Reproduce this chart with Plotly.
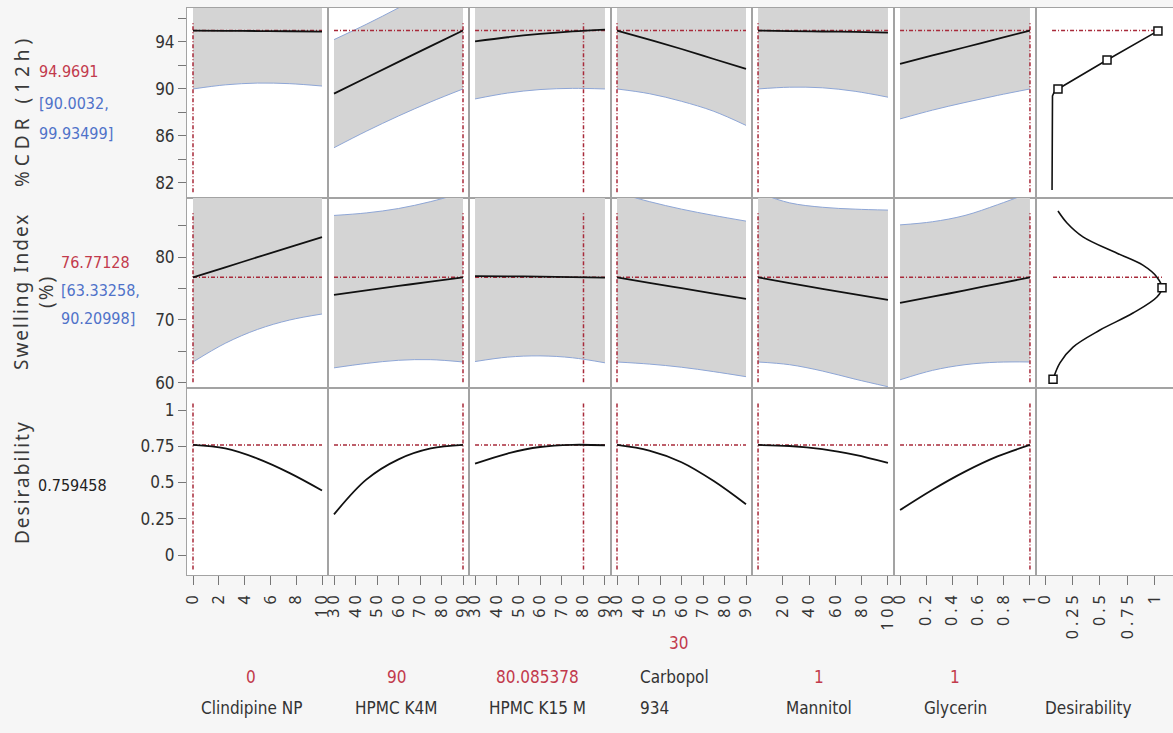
import plotly.graph_objects as go

# ---------------- data ----------------
factor_names = ["Clindipine NP", "HPMC K4M", "HPMC K15 M", "Carbopol 934", "Mannitol", "Glycerin"]
factor_current = [0, 90, 80.085378, 30, 1, 1]
factor_current_text = ["0", "90", "80.085378", "30", "1", "1"]
factor_lo = [0, 30, 30, 30, 1, 0]
factor_hi = [10, 90, 90, 90, 100, 1]

x_clindipine = [0, 2.5, 5, 7.5, 10]
x_k4m = [30, 45, 60, 75, 90]
x_k15m = [30, 45, 60, 75, 90]
x_carbopol = [30, 45, 60, 75, 90]
x_mannitol = [1, 25, 50, 75, 100]
x_glycerin = [0, 0.25, 0.5, 0.75, 1]
factor_grid = [x_clindipine, x_k4m, x_k15m, x_carbopol, x_mannitol, x_glycerin]

response_names = ["%CDR (12h)", "Swelling Index", "(%)", "Desirability"]
response_current = [94.9691, 76.77128, 0.759458]
response_current_text = ["94.9691", "76.77128", "0.759458"]
response_ci_text = [["[90.0032,", "99.93499]"], ["[63.33258,", "90.20998]"], None]

# %CDR (12h) profiles (one row per factor)
cdr_pred = [
    [94.97, 94.95, 94.93, 94.91, 94.88],
    [89.6, 90.95, 92.3, 93.65, 94.97],
    [94.05, 94.4, 94.68, 94.9, 95.05],
    [94.97, 94.2, 93.4, 92.55, 91.7],
    [94.97, 94.93, 94.89, 94.85, 94.8],
    [92.13, 92.85, 93.55, 94.27, 94.97]]
cdr_lower = [
    [90.0, 90.35, 90.5, 90.45, 90.25],
    [85.0, 86.4, 87.7, 88.9, 90.0],
    [89.15, 89.65, 89.95, 90.05, 90.0],
    [90.0, 89.6, 88.95, 88.1, 86.9],
    [90.0, 90.15, 90.1, 89.8, 89.3],
    [87.45, 88.2, 88.85, 89.45, 90.0]]
cdr_upper = [
    [99.93, 99.55, 99.36, 99.37, 99.5],
    [94.2, 95.5, 96.9, 98.4, 99.93],
    [98.95, 99.15, 99.4, 99.75, 100.1],
    [99.93, 98.9, 98.0, 97.5, 97.2],
    [99.93, 99.7, 99.7, 99.9, 100.3],
    [97.0, 97.5, 98.25, 99.1, 99.93]]

# Swelling Index (%) profiles
sw_pred = [
    [76.77, 78.37, 79.97, 81.57, 83.17],
    [74.0, 74.7, 75.4, 76.1, 76.77],
    [76.95, 76.93, 76.88, 76.8, 76.74],
    [76.77, 75.9, 75.05, 74.2, 73.35],
    [76.77, 75.85, 74.95, 74.05, 73.2],
    [72.7, 73.7, 74.7, 75.75, 76.77]]
sw_lower = [
    [63.33, 66.3, 68.5, 70.0, 70.95],
    [62.4, 63.1, 63.6, 63.7, 63.33],
    [63.4, 64.1, 64.3, 64.0, 63.2],
    [63.33, 63.0, 62.5, 61.8, 61.0],
    [63.33, 62.9, 61.9, 60.6, 59.4],
    [60.5, 62.0, 62.9, 63.3, 63.33]]
sw_upper = [
    [90.21, 90.44, 91.44, 93.14, 95.39],
    [86.6, 87.0, 87.7, 88.8, 90.21],
    [90.5, 89.9, 89.7, 89.8, 90.3],
    [90.21, 88.8, 87.6, 86.6, 85.7],
    [90.21, 88.6, 87.9, 87.6, 87.45],
    [85.1, 85.6, 86.6, 88.3, 90.21]]

# Desirability profiles
des_pred = [
    [0.759, 0.735, 0.665, 0.565, 0.445],
    [0.28, 0.52, 0.66, 0.735, 0.759],
    [0.63, 0.70, 0.745, 0.76, 0.757],
    [0.759, 0.72, 0.64, 0.51, 0.35],
    [0.759, 0.752, 0.73, 0.69, 0.635],
    [0.31, 0.45, 0.575, 0.68, 0.759]]

# desirability functions (x = desirability, y = response)
cdr_des_d = [0.064, 0.064, 0.064, 0.068, 0.082, 0.118, 0.564, 1.027]
cdr_des_y = [81.4, 86.5, 88.9, 89.4, 89.7, 90.0, 92.47, 94.94]
cdr_mark_d = [0.118, 0.564, 1.027]
cdr_mark_y = [90.0, 92.47, 94.94]
sw_des_d = [0.118, 0.2, 0.345, 0.655, 0.89, 1.018, 1.064, 1.018, 0.8, 0.5, 0.255, 0.136, 0.073]
sw_des_y = [87.3, 85.4, 83.2, 80.6, 78.7, 76.8, 75.1, 73.65, 71.1, 68.4, 65.7, 63.2, 60.6]
sw_mark_d = [0.073, 1.064]
sw_mark_y = [60.6, 75.1]

# tick labels
x_tickvals = [[0, 2, 4, 6, 8, 10],
              [30, 40, 50, 60, 70, 80, 90],
              [30, 40, 50, 60, 70, 80, 90],
              [30, 40, 50, 60, 70, 80, 90],
              [20, 40, 60, 80, 100],
              [0, 0.2, 0.4, 0.6, 0.8, 1],
              [0, 0.25, 0.5, 0.75, 1]]
x_ticktext = [["0", "2", "4", "6", "8", "10"],
              ["30", "40", "50", "60", "70", "80", "90"],
              ["30", "40", "50", "60", "70", "80", "90"],
              ["30", "40", "50", "60", "70", "80", "90"],
              ["20", "40", "60", "80", "100"],
              ["0", "0.2", "0.4", "0.6", "0.8", "1"],
              ["0", "0.25", "0.5", "0.75", "1"]]

# ---------------- style / layout ----------------
W, H = 1173, 733
col_px = [187, 328, 469, 611, 752, 894, 1036, 1173]
row_px = [8, 198, 388, 575]
row_ranges = [[80.72, 96.89], [59.2, 89.37], [-0.138, 1.152]]
row_ticks = [dict(tick0=82, dtick=4, minor=2), dict(tick0=60, dtick=10, minor=5), dict(tick0=0, dtick=0.25, minor=None)]
des_range = [-0.082, 1.164]

NARROW = "Liberation Sans Narrow, Arial Narrow, DejaVu Sans Condensed, sans-serif"
SANS = "Noto Sans, Open Sans, DejaVu Sans, sans-serif"
RED = "#c23a4c"
BLUE = "#4f72c9"
REFRED = "#a82a3a"
BORDER = "#a3a3a3"
BAND = "#d4d4d4"
BANDLINE = "#8ea6d6"
BG = "#f6f6f6"

fig = go.Figure()


def sfx(r, c):
    i = r * 7 + c + 1
    return "" if i == 1 else str(i)


def spaced(t, ls=4):
    return "<span style='letter-spacing:%dpx'>%s</span>" % (ls, t)


layout_axes = {}
for r in range(3):
    for c in range(7):
        s = sfx(r, c)
        if c < 6:
            lo, hi = factor_lo[c], factor_hi[c]
            pad = (hi - lo) * 6.0 / 129.0
            xr = [lo - pad, hi + pad]
        else:
            xr = des_range
        xa = dict(domain=[col_px[c] / W, min(col_px[c + 1] / W, 1.0)], range=xr,
                  anchor="y" + s, showline=True, mirror=True, linecolor=BORDER, linewidth=1,
                  showgrid=False, zeroline=False, fixedrange=True, automargin=False)
        if r == 2:
            xa.update(ticks="outside", ticklen=9, tickcolor="#777", tickwidth=1,
                      tickmode="array", tickvals=x_tickvals[c],
                      ticktext=[spaced(t) for t in x_ticktext[c]], tickangle=-90,
                      tickfont=dict(family=SANS, size=16, color="#333"))
        else:
            xa.update(showticklabels=False, ticks="")
        ya = dict(domain=[1 - row_px[r + 1] / H, 1 - row_px[r] / H], range=row_ranges[r],
                  anchor="x" + s, showline=True, mirror=True, linecolor=BORDER, linewidth=1,
                  showgrid=False, zeroline=False, fixedrange=True, automargin=False)
        if c == 0:
            rt = row_ticks[r]
            ya.update(ticks="outside", ticklen=8, tickcolor="#777", tickwidth=1,
                      tick0=rt["tick0"], dtick=rt["dtick"],
                      tickfont=dict(family=NARROW, size=17, color="#333"))
            if rt["minor"]:
                ya["minor"] = dict(ticks="outside", ticklen=8, tickcolor="#777",
                                   dtick=rt["minor"], tick0=rt["tick0"])
        else:
            ya.update(showticklabels=False, ticks="")
        layout_axes["xaxis" + s] = xa
        layout_axes["yaxis" + s] = ya

fig.update_layout(**layout_axes)

responses = [(cdr_pred, cdr_lower, cdr_upper), (sw_pred, sw_lower, sw_upper), (des_pred, None, None)]
REFDASH = dict(color=REFRED, width=1.5, dash="4px,2px,1px,2px")

for r in range(3):
    pred, lower, upper = responses[r]
    ylo, yhi = row_ranges[r]
    span = yhi - ylo
    for c in range(6):
        s = sfx(r, c)
        xs = factor_grid[c]
        ax = dict(xaxis="x" + s, yaxis="y" + s)
        if lower is not None:
            fig.add_trace(go.Scatter(x=xs, y=upper[c], mode="lines", line=dict(color=BANDLINE, width=1, shape="spline"),
                                     hoverinfo="skip", showlegend=False, **ax))
            fig.add_trace(go.Scatter(x=xs, y=lower[c], mode="lines", line=dict(color=BANDLINE, width=1, shape="spline"),
                                     fill="tonexty", fillcolor=BAND, hoverinfo="skip", showlegend=False, **ax))
        fig.add_trace(go.Scatter(x=[factor_lo[c], factor_hi[c]], y=[response_current[r]] * 2, mode="lines",
                                 line=REFDASH, hoverinfo="skip", showlegend=False, **ax))
        fig.add_trace(go.Scatter(x=[factor_current[c]] * 2, y=[ylo + 0.03 * span, yhi - 0.075 * span], mode="lines",
                                 line=REFDASH, hoverinfo="skip", showlegend=False, **ax))
        fig.add_trace(go.Scatter(x=xs, y=pred[c], mode="lines", line=dict(color="#111", width=1.8, shape="spline"),
                                 showlegend=False, **ax))

# desirability function panels
for r, (dd, yy, md, my) in enumerate([(cdr_des_d, cdr_des_y, cdr_mark_d, cdr_mark_y),
                                       (sw_des_d, sw_des_y, sw_mark_d, sw_mark_y)]):
    s = sfx(r, 6)
    ax = dict(xaxis="x" + s, yaxis="y" + s)
    fig.add_trace(go.Scatter(x=[min(dd), max(dd)], y=[response_current[r]] * 2, mode="lines",
                             line=REFDASH, hoverinfo="skip", showlegend=False, **ax))
    fig.add_trace(go.Scatter(x=dd, y=yy, mode="lines",
                             line=dict(color="#111", width=1.6, shape="spline" if r == 1 else "linear"),
                             showlegend=False, **ax))
    fig.add_trace(go.Scatter(x=md, y=my, mode="markers",
                             marker=dict(symbol="square", size=8, color="white", line=dict(color="#111", width=1.5)),
                             showlegend=False, **ax))

# empty bottom-right panel (axis only)
s = sfx(2, 6)
fig.add_trace(go.Scatter(x=[None], y=[None], mode="markers", xaxis="x" + s, yaxis="y" + s,
                         showlegend=False, hoverinfo="skip"))

# ---------------- annotations ----------------
ann = []


def py(p):
    return 1 - p / H


def txt(text, x, y, color="#333", size=16, family=NARROW, xanchor="center", angle=0):
    ann.append(dict(text=text, x=x / W, y=py(y), xref="paper", yref="paper", showarrow=False,
                    xanchor=xanchor, yanchor="middle", textangle=angle,
                    font=dict(family=family, size=size, color=color)))


TITLE = "#3a3a3a"
txt(spaced(response_names[0], 5), 22, 111, color=TITLE, size=19, family=SANS, angle=-90)
txt(spaced(response_names[1], 2) + "<br>" + spaced(response_names[2], 2),
    33, 292, color=TITLE, size=19, family=SANS, angle=-90)
txt(spaced(response_names[3], 2), 22, 482, color=TITLE, size=19, family=SANS, angle=-90)

txt(response_current_text[0], 37, 72, color=RED, xanchor="left")
txt(response_ci_text[0][0], 37, 103, color=BLUE, xanchor="left")
txt(response_ci_text[0][1], 37, 133, color=BLUE, xanchor="left")
txt(response_current_text[1], 59, 262, color=RED, xanchor="left")
txt(response_ci_text[1][0], 59, 290, color=BLUE, xanchor="left")
txt(response_ci_text[1][1], 59, 318, color=BLUE, xanchor="left")
txt(response_current_text[2], 36, 485, color="#222", xanchor="left")

centers = [251, 396, 537, 675, 819, 955]
LBL = 17
for c in range(6):
    if c == 3:
        txt(factor_current_text[c], 678, 643, color=RED, size=LBL)
        txt("Carbopol", 638, 677, size=LBL, xanchor="left")
        txt("934", 638, 708, size=LBL, xanchor="left")
    else:
        txt(factor_current_text[c], centers[c], 677, color=RED, size=LBL)
        txt(factor_names[c], centers[c], 708, size=LBL)
txt("Desirability", 1088, 708, size=LBL)

fig.update_layout(width=W, height=H, margin=dict(l=0, r=0, t=0, b=0), template="none",
                  paper_bgcolor=BG, plot_bgcolor="white", showlegend=False,
                  annotations=ann)

fig.write_html("out.html", config={"displayModeBar": False},
               post_script="document.body.style.margin='0px';document.body.style.background='%s';" % BG)
